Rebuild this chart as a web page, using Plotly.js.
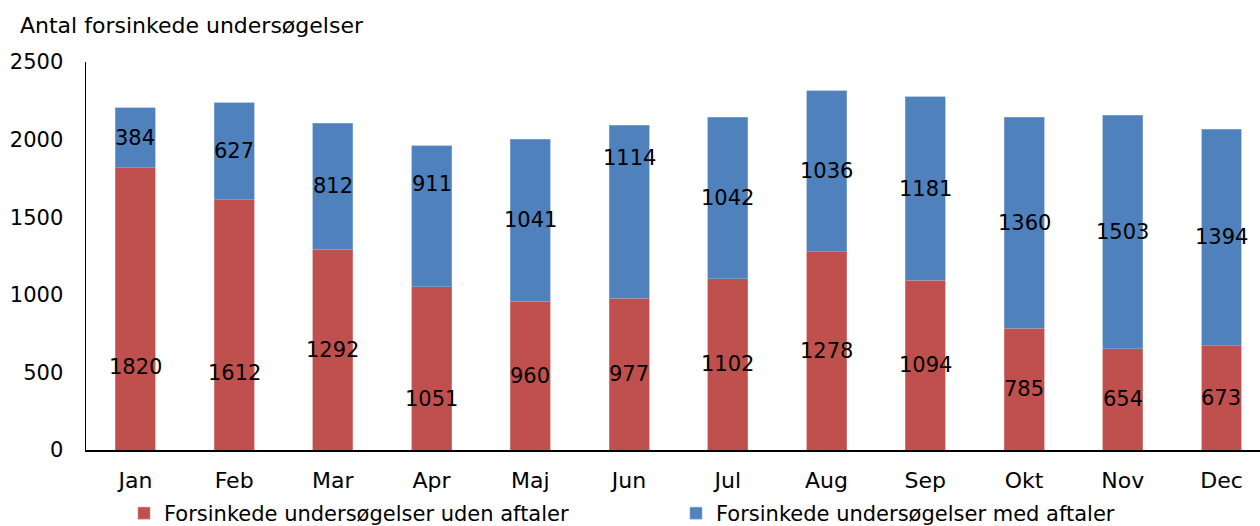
<!DOCTYPE html>
<html>
<head>
<meta charset="utf-8">
<script src="https://cdn.plot.ly/plotly-3.0.1.min.js"></script>
<style>
  html, body { margin: 0; padding: 0; background: #fff; }
  #chart { width: 1260px; height: 526px; }
</style>
</head>
<body>
<div id="chart"></div>
<script>
// Data
const months = ["Jan", "Feb", "Mar", "Apr", "Maj", "Jun", "Jul", "Aug", "Sep", "Okt", "Nov", "Dec"];
const udenAftaler = [1820, 1612, 1292, 1051, 960, 977, 1102, 1278, 1094, 785, 654, 673];
const medAftaler = [384, 627, 812, 911, 1041, 1114, 1042, 1036, 1181, 1360, 1503, 1394];

// Where the value labels sit (value units), as placed in the original
const udenLabelY = [535, 496, 646, 329, 480, 488, 551, 639, 547, 392, 327, 336];
const medLabelY = [2012, 1925, 1698, 1714, 1480, 1881, 1623, 1796, 1684, 1465, 1405, 1370];

const yTicks = [0, 500, 1000, 1500, 2000, 2500];

const RED = "#C0504D";
const BLUE = "#4F81BD";
const FONT = "DejaVu Sans, Verdana, sans-serif";

const traces = [
  {
    type: "bar",
    name: "Forsinkede undersøgelser uden aftaler",
    x: months,
    y: udenAftaler,
    width: 0.405,
    marker: { color: RED, line: { color: "#D88A88", width: 0.6 } },
    legend: "legend",
  },
  {
    type: "bar",
    name: "Forsinkede undersøgelser med aftaler",
    x: months,
    y: medAftaler,
    width: 0.405,
    marker: { color: BLUE, line: { color: "#8EADD6", width: 0.6 } },
    legend: "legend2",
  },
];

// Value labels as annotations so they can sit where the original had them
const annotations = [];
months.forEach((m, i) => {
  annotations.push({
    x: m, y: udenLabelY[i], text: String(udenAftaler[i]),
    showarrow: false, xanchor: "center", yanchor: "middle",
    font: { family: FONT, size: 21, color: "#000" },
  });
  annotations.push({
    x: m, y: medLabelY[i], text: String(medAftaler[i]),
    showarrow: false, xanchor: "center", yanchor: "middle",
    font: { family: FONT, size: 21, color: "#000" },
  });
});

const legendBase = {
  orientation: "h",
  xref: "container",
  yref: "container",
  xanchor: "left",
  y: 1 - 493 / 526,
  yanchor: "top",
  font: { family: FONT, size: 21, color: "#000" },
  itemclick: false,
};

const layout = {
  width: 1260,
  height: 526,
  margin: { l: 86, r: 0, t: 62, b: 76, autoexpand: false },
  paper_bgcolor: "#fff",
  plot_bgcolor: "#fff",
  barmode: "stack",
  font: { family: FONT, size: 20, color: "#000" },
  title: {
    text: "Antal forsinkede undersøgelser",
    font: { family: FONT, size: 22, color: "#000" },
    xref: "container", yref: "container",
    x: 20 / 1260, xanchor: "left",
    y: 1 - 25 / 526, yanchor: "middle",
  },
  xaxis: {
    type: "category",
    range: [-0.5, 11.39],
    showline: true,
    linecolor: "#000",
    linewidth: 1.5,
    ticks: "",
    showgrid: false,
    zeroline: false,
    tickfont: { family: FONT, size: 22, color: "#000" },
    ticklabelstandoff: 10,
  },
  yaxis: {
    range: [0, 2500],
    tickvals: yTicks,
    ticktext: yTicks.map(String),
    showline: true,
    linecolor: "#000",
    linewidth: 1.5,
    ticks: "",
    showgrid: false,
    zeroline: false,
    tickfont: { family: FONT, size: 21, color: "#000" },
    ticklabelstandoff: 17,
  },
  showlegend: true,
  legend: Object.assign({}, legendBase, { x: 124 / 1260 }),
  legend2: Object.assign({}, legendBase, { x: 676 / 1260 }),
  annotations: annotations,
};

Plotly.newPlot("chart", traces, layout, { staticPlot: true, displayModeBar: false });
</script>
</body>
</html>
